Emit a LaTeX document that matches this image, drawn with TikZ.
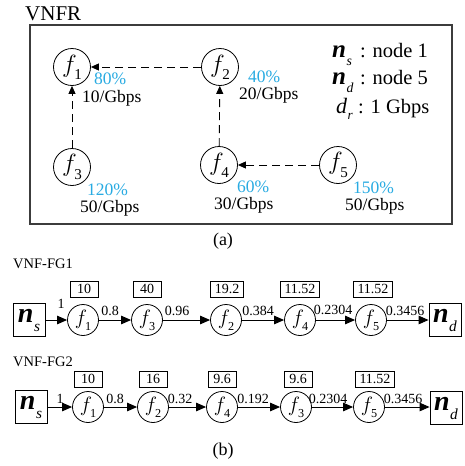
\documentclass[tikz,border=0pt]{standalone}
\usepackage{fontspec}
\usepackage{graphicx}
\setmainfont{Liberation Serif}
\usetikzlibrary{arrows.meta}
\definecolor{pct}{RGB}{41,171,226}
\definecolor{framecol}{RGB}{60,60,60}
\newcommand{\fnode}[1]{\ensuremath{f}\kern-0.1em\raisebox{-0.28em}{\scalebox{0.58}{#1}}}
\newcommand{\nsym}[1]{\textbf{\textit{n}}\kern0.02em\raisebox{-0.32em}{\scalebox{0.55}{\textit{#1}}}}
\newcommand{\dsym}[1]{\textit{d}\kern0.02em\raisebox{-0.3em}{\scalebox{0.6}{\textit{#1}}}}
\begin{document}
\begin{tikzpicture}[x=1pt,y=-1pt,
  fa/.style={circle,draw,line width=0.8pt,minimum size=37pt,inner sep=0pt,font=\fontsize{26}{26}\selectfont},
  fb/.style={circle,draw,line width=0.8pt,minimum size=31pt,inner sep=0pt,font=\fontsize{21}{21}\selectfont},
  valbox/.style={draw,line width=0.7pt,minimum width=28pt,minimum height=16pt,inner xsep=4pt,inner ysep=1pt,font=\fontsize{14}{14}\selectfont},
  endbox/.style={draw,line width=0.8pt,minimum width=32pt,minimum height=33pt,inner sep=0pt,font=\fontsize{28}{28}\selectfont},
  arr/.style={-{Triangle[length=10pt,width=8.5pt]},line width=1pt},
  darr/.style={-{Triangle[length=8pt,width=7pt]},line width=0.9pt,dash pattern=on 8pt off 5pt},
  pctl/.style={text=pct,inner sep=0pt,anchor=base west,font=\fontsize{17.5}{17.5}\selectfont},
  lab/.style={inner sep=0pt,anchor=base west,font=\fontsize{17.5}{17.5}\selectfont},
  leg/.style={inner sep=0pt,anchor=base west,font=\fontsize{20.5}{20.5}\selectfont},
  elab/.style={inner sep=0pt,anchor=base,font=\fontsize{14}{14}\selectfont},
  ttl/.style={inner sep=0pt,anchor=west,font=\fontsize{14.5}{14.5}\selectfont},
  captext/.style={inner sep=0pt,font=\fontsize{18}{18}\selectfont}]
\useasboundingbox (0,0) rectangle (464,466);
% ---------- (a) ----------
\node[inner sep=0pt,anchor=west,font=\fontsize{21}{21}\selectfont] (vnfr) at (25,14) {VNFR};
\draw[framecol,line width=1.5pt] (30,25) rectangle (452,224);
\node[fa] (a1) at (72,67) {\fnode{1}};
\node[fa] (a2) at (220,67) {\fnode{2}};
\node[fa] (a3) at (72,167) {\fnode{3}};
\node[fa] (a4) at (219,165) {\fnode{4}};
\node[fa] (a5) at (338,165) {\fnode{5}};
\draw[darr] (a2) -- (a1);
\draw[darr] (a3) -- (a1);
\draw[darr] (a4) -- (a2);
\draw[darr] (a5) -- (a4);
\node[pctl] (p1) at (94,84) {80\%};
\node[lab] (g1) at (82,102) {10/Gbps};
\node[pctl] (p2) at (248,82) {40\%};
\node[lab] (g2) at (239,99) {20/Gbps};
\node[pctl] (p3) at (87,195) {120\%};
\node[lab] (g3) at (80,212) {50/Gbps};
\node[pctl] (p4) at (237,192) {60\%};
\node[lab] (g4) at (214,209) {30/Gbps};
\node[pctl] (p5) at (353,193) {150\%};
\node[lab] (g5) at (345,210) {50/Gbps};
\node[inner sep=0pt,anchor=base west,font=\fontsize{25}{25}\selectfont] (n1) at (332,57) {\nsym{s}};
\node[leg] (l1) at (360,57) {: node 1};
\node[inner sep=0pt,anchor=base west,font=\fontsize{25}{25}\selectfont] (n2) at (332,84) {\nsym{d}};
\node[leg] (l2) at (360,84) {: node 5};
\node[inner sep=0pt,anchor=base west,font=\fontsize{22}{22}\selectfont] (n3) at (336,113) {\dsym{r}};
\node[leg] (l3) at (358,113) {: 1 Gbps};
\node[captext] (capa) at (223,241) {(a)};
% ---------- (b) row 1 ----------
\node[ttl] (t1) at (13,264) {VNF-FG1};
\node[endbox] (s1) at (29,320) {\nsym{s}};
\node[fb] (r11) at (83,320) {\fnode{1}};
\node[fb] (r13) at (147,320) {\fnode{3}};
\node[fb] (r12) at (226,320) {\fnode{2}};
\node[fb] (r14) at (300,320) {\fnode{4}};
\node[fb] (r15) at (371,320) {\fnode{5}};
\node[endbox] (d1) at (445,320) {\nsym{d}};
\node[valbox] (b11) at (84,289) {10};
\node[valbox] (b12) at (147,289) {40};
\node[valbox] (b13) at (227,289) {19.2};
\node[valbox] (b14) at (300,289) {11.52};
\node[valbox] (b15) at (373,289) {11.52};
\draw[arr] (s1) -- (r11);
\draw[arr] (r11) -- (r13);
\draw[arr] (r13) -- (r12);
\draw[arr] (r12) -- (r14);
\draw[arr] (r14) -- (r15);
\draw[arr] (r15) -- (d1);
\node[elab] (e11) at (61,308) {1};
\node[elab] (e12) at (110,315) {0.8};
\node[elab] (e13) at (177,315) {0.96};
\node[elab] (e14) at (258,315) {0.384};
\node[elab] (e15) at (333,314) {0.2304};
\node[elab] (e16) at (405,315) {0.3456};
% ---------- (b) row 2 ----------
\node[ttl] (t2) at (13,362) {VNF-FG2};
\node[endbox] (s2) at (31,407) {\nsym{s}};
\node[fb] (r21) at (88,407) {\fnode{1}};
\node[fb] (r22) at (153,407) {\fnode{2}};
\node[fb] (r24) at (222,407) {\fnode{4}};
\node[fb] (r23) at (296,407) {\fnode{3}};
\node[fb] (r25) at (369,407) {\fnode{5}};
\node[endbox] (d2) at (446,408) {\nsym{d}};
\node[valbox] (b21) at (88,379) {10};
\node[valbox] (b22) at (153,379) {16};
\node[valbox] (b23) at (222,379) {9.6};
\node[valbox] (b24) at (298,379) {9.6};
\node[valbox] (b25) at (375,379) {11.52};
\draw[arr] (s2) -- (r21);
\draw[arr] (r21) -- (r22);
\draw[arr] (r22) -- (r24);
\draw[arr] (r24) -- (r23);
\draw[arr] (r23) -- (r25);
\draw[arr] (r25) -- (r25 -| d2.west);
\node[elab] (e21) at (60,403) {1};
\node[elab] (e22) at (115,403) {0.8};
\node[elab] (e23) at (180,403) {0.32};
\node[elab] (e24) at (253,403) {0.192};
\node[elab] (e25) at (328,403) {0.2304};
\node[elab] (e26) at (403,403) {0.3456};
\node[captext] (capb) at (223,451) {(b)};
\end{tikzpicture}
\end{document}
